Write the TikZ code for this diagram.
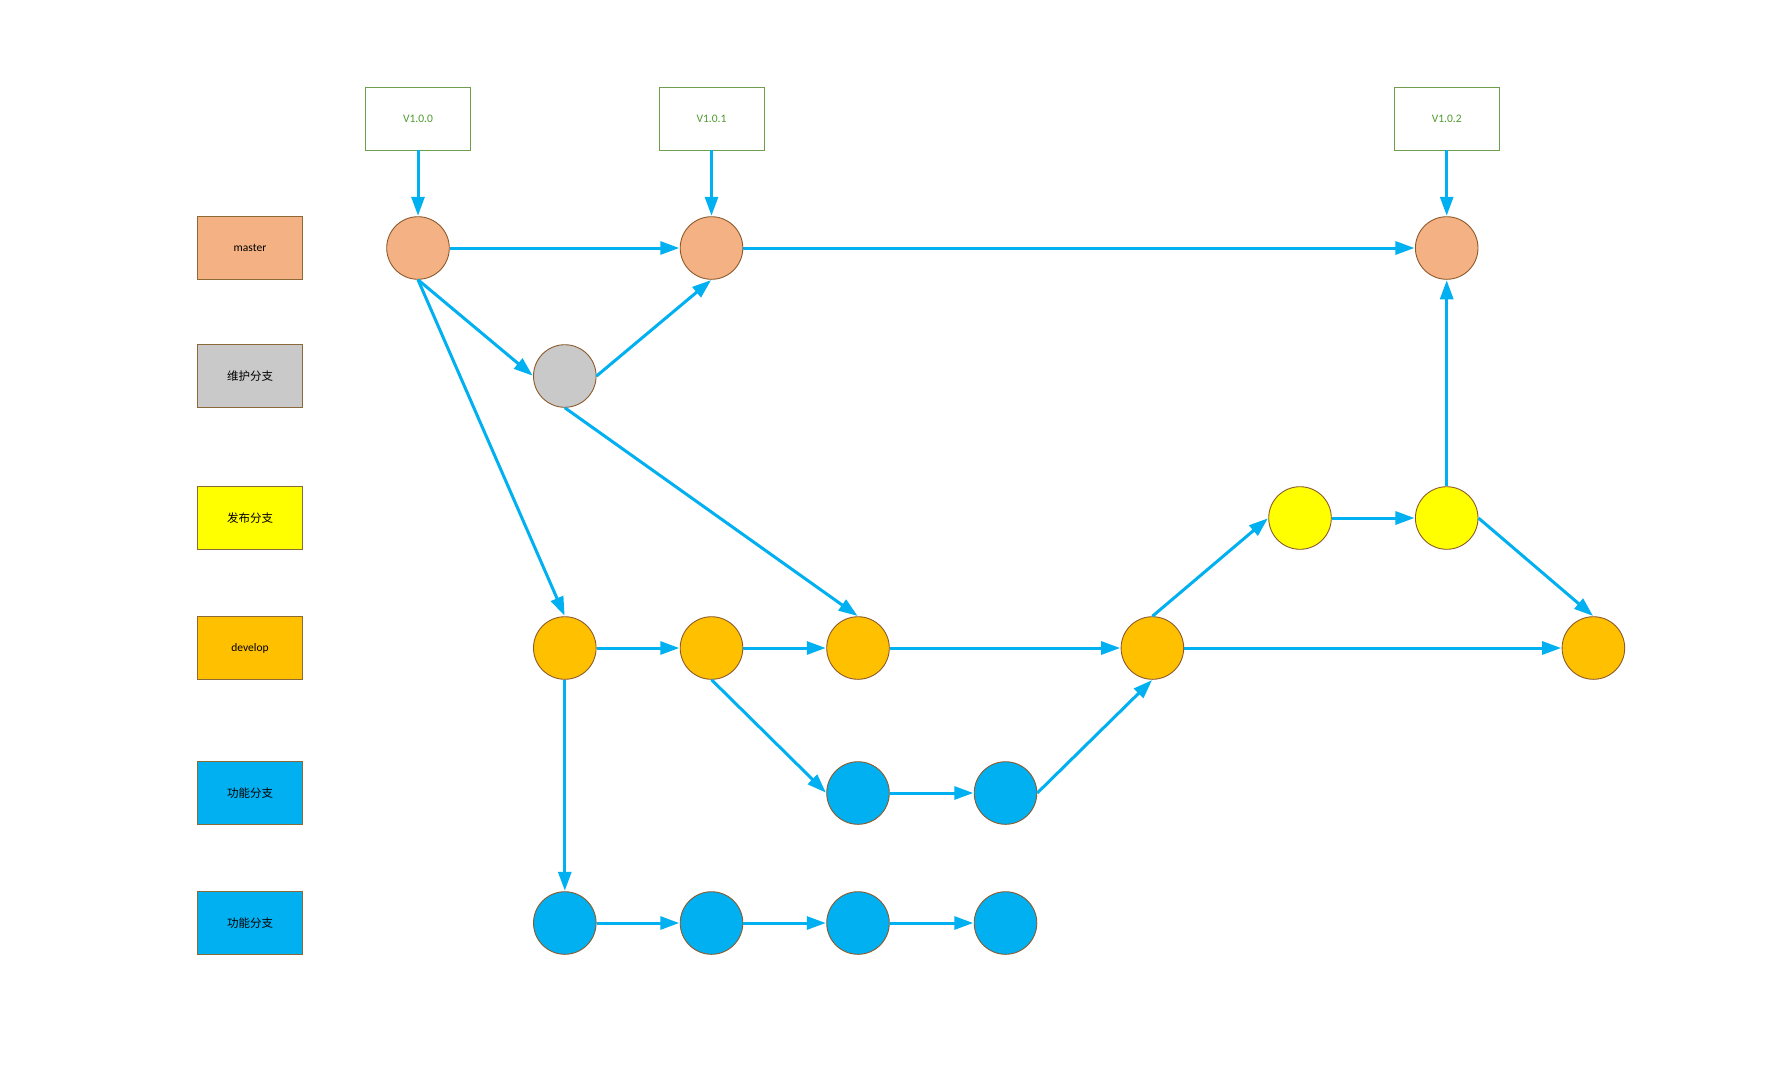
\documentclass[tikz,border=0pt]{standalone}
\usepackage{fontspec}
\setmainfont{Carlito}
\newfontfamily\cjk{Noto Sans CJK SC}
\usetikzlibrary{arrows.meta}
\definecolor{cmaster}{HTML}{F4B183}
\definecolor{cmaint}{HTML}{C9C9C9}
\definecolor{crel}{HTML}{FFFF00}
\definecolor{cdev}{HTML}{FFC000}
\definecolor{cfeat}{HTML}{00B0F0}
\definecolor{cedge}{HTML}{00B0F0}
\definecolor{cborder}{HTML}{8C5A2C}
\definecolor{clabborder}{HTML}{8A6A36}
\definecolor{cvgreen}{HTML}{6E9E4E}
\definecolor{cvtext}{HTML}{4E9A2E}
\tikzset{
  commit/.style={circle, draw=cborder, line width=0.9pt, minimum size=62.6pt, inner sep=0pt},
  lab/.style={rectangle, draw=clabborder, line width=0.9pt, minimum width=105pt, minimum height=63pt, inner sep=0pt, font=\fontsize{11.5}{13}\selectfont},
  ver/.style={rectangle, draw=cvgreen, fill=white, line width=0.9pt, minimum width=105pt, minimum height=63pt, inner sep=0pt, text=cvtext, font=\fontsize{11.5}{13}\selectfont},
  flow/.style={draw=cedge, line width=3pt, -{Triangle[length=19pt,width=13pt]}, shorten >=0.5pt},
}
\begin{document}
\begin{tikzpicture}[x=1pt,y=-1pt]
\useasboundingbox[fill=white] (0,0) rectangle (1782,1082);
% labels
\node[lab, fill=cmaster] (lmaster) at (250,248) {master};
\node[lab, fill=cmaint] (lmaint) at (250,376) {\cjk 维护分支};
\node[lab, fill=crel] (lrel) at (250,518) {\cjk 发布分支};
\node[lab, fill=cdev] (ldev) at (250,648) {develop};
\node[lab, fill=cfeat] (lfeat1) at (250,793) {\cjk 功能分支};
\node[lab, fill=cfeat] (lfeat2) at (250,923) {\cjk 功能分支};
% versions
\node[ver] (v0) at (418,118.5) {V1.0.0};
\node[ver] (v1) at (711.5,118.5) {V1.0.1};
\node[ver] (v2) at (1446.7,118.5) {V1.0.2};
% master
\node[commit, fill=cmaster] (m1) at (418,248) {};
\node[commit, fill=cmaster] (m2) at (711.5,248) {};
\node[commit, fill=cmaster] (m3) at (1446.7,248) {};
% maintenance
\node[commit, fill=cmaint] (h1) at (564.8,376) {};
% release
\node[commit, fill=crel] (r1) at (1300,518) {};
\node[commit, fill=crel] (r2) at (1446.7,518) {};
% develop
\node[commit, fill=cdev] (d1) at (564.8,648) {};
\node[commit, fill=cdev] (d2) at (711.5,648) {};
\node[commit, fill=cdev] (d3) at (858,648) {};
\node[commit, fill=cdev] (d4) at (1152.4,648) {};
\node[commit, fill=cdev] (d5) at (1593.4,648) {};
% feature 1
\node[commit, fill=cfeat] (fa1) at (858,793) {};
\node[commit, fill=cfeat] (fa2) at (1005.5,793) {};
% feature 2
\node[commit, fill=cfeat] (fb1) at (564.8,923) {};
\node[commit, fill=cfeat] (fb2) at (711.5,923) {};
\node[commit, fill=cfeat] (fb3) at (858,923) {};
\node[commit, fill=cfeat] (fb4) at (1005.5,923) {};
% edges
\draw[flow] (v0) -- (m1);
\draw[flow] (v1) -- (m2);
\draw[flow] (v2) -- (m3);
\draw[flow] (m1) -- (m2);
\draw[flow] (m2) -- (m3);
\draw[flow] (m1.south) -- (h1.west);
\draw[flow] (h1.east) -- (m2.south);
\draw[flow] (m1.south) -- (d1.north);
\draw[flow] (h1.south) -- (d3.north);
\draw[flow] (d1) -- (d2);
\draw[flow] (d2) -- (d3);
\draw[flow] (d3) -- (d4);
\draw[flow] (d4) -- (d5);
\draw[flow] (d2.south) -- (fa1.west);
\draw[flow] (fa1) -- (fa2);
\draw[flow] (fa2.east) -- (d4.south);
\draw[flow] (d4.north) -- (r1.west);
\draw[flow] (r1) -- (r2);
\draw[flow] (r2) -- (m3);
\draw[flow] (r2.east) -- (d5.north);
\draw[flow] (d1) -- (fb1);
\draw[flow] (fb1) -- (fb2);
\draw[flow] (fb2) -- (fb3);
\draw[flow] (fb3) -- (fb4);
\end{tikzpicture}
\end{document}
